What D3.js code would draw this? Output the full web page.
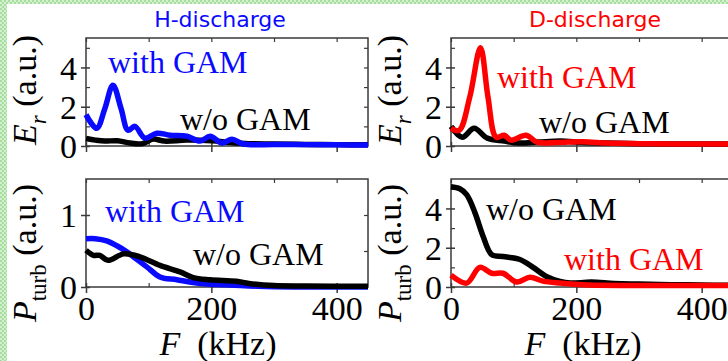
<!DOCTYPE html>
<html>
<head>
<meta charset="utf-8">
<script src="https://cdn.jsdelivr.net/npm/d3@7"></script>
<style>
    body { margin: 0; background: #fff; }
    svg { display: block; }
</style>
</head>
<body>
<svg width="728" height="361"></svg>
<script>
// Частоты (кГц) и значения
const hErGamF = [0, 17, 30, 43, 56, 67, 78, 94, 113, 134, 161, 182, 198, 217, 233, 251, 300, 350, 400, 450];
const hErGamV = [1.6, 0.9, 1.9, 3.1, 1.9, 0.8, 1.0, 0.4, 0.65, 0.55, 0.5, 0.25, 0.5, 0.15, 0.35, 0.1, 0.08, 0.07, 0.06, 0.05];
const hErNoF = [0, 15, 30, 50, 70, 90, 107, 125, 160, 200, 230, 260, 300, 350, 400, 450];
const hErNoV = [0.38, 0.3, 0.25, 0.27, 0.15, 0.12, 0.35, 0.25, 0.3, 0.27, 0.18, 0.12, 0.1, 0.08, 0.07, 0.06];

const dErGamF = [0, 13, 30, 47, 59, 72, 85, 96, 120, 137, 170, 209, 250, 300, 350, 400, 450];
const dErGamV = [0.9, 0.8, 2.5, 5.0, 2.5, 0.45, 0.55, 0.3, 0.55, 0.2, 0.18, 0.22, 0.15, 0.12, 0.1, 0.1, 0.1];
const dErNoF = [0, 18, 37, 58, 85, 108, 140, 175, 210, 250, 300, 350, 400, 450];
const dErNoV = [1.0, 0.45, 0.9, 0.4, 0.25, 0.15, 0.2, 0.25, 0.18, 0.15, 0.12, 0.1, 0.1, 0.1];

const hPGamF = [0, 15, 33, 50, 65, 80, 97, 118, 145, 182, 220, 260, 300, 350, 400, 450];
const hPGamV = [0.67, 0.67, 0.64, 0.57, 0.49, 0.39, 0.28, 0.14, 0.1, 0.05, 0.03, 0.015, 0.005, 0, 0, 0];
const hPNoF = [0, 12, 22, 35, 60, 86, 118, 150, 171, 198, 240, 260, 300, 350, 400, 450];
const hPNoV = [0.51, 0.44, 0.44, 0.37, 0.46, 0.42, 0.3, 0.21, 0.13, 0.1, 0.08, 0.05, 0.02, 0.015, 0.01, 0.01];

const dPNoF = [0, 14, 25, 38, 51, 65, 83, 110, 131, 153, 174, 190, 224, 260, 300, 350, 400, 450];
const dPNoV = [5.1, 5.0, 4.7, 3.8, 2.6, 1.65, 1.55, 1.4, 1.0, 0.52, 0.28, 0.2, 0.25, 0.18, 0.15, 0.12, 0.1, 0.08];
const dPGamF = [0, 25, 46, 65, 83, 105, 126, 147, 174, 220, 300, 400, 450];
const dPGamV = [0.6, 0.2, 1.0, 0.7, 0.7, 0.25, 0.5, 0.3, 0.2, 0.1, 0.08, 0.08, 0.08];

const xTicks = [0, 200, 400];
const xMinor = [100, 300];
const titles = ["H-discharge", "D-discharge"];

const svg = d3.select("svg");
const serif = "'Liberation Serif', 'Times New Roman', serif";

// фон слайда: зелёная клетка слева и сверху
const defs = svg.append("defs");
const pat = defs.append("pattern")
    .attr("id", "chk")
    .attr("width", 4).attr("height", 4)
    .attr("patternUnits", "userSpaceOnUse");
pat.append("rect").attr("width", 4).attr("height", 4).attr("fill", "#d4f0cf");
pat.append("rect").attr("width", 2).attr("height", 2).attr("fill", "#a6dea0");
pat.append("rect").attr("x", 2).attr("y", 2).attr("width", 2).attr("height", 2).attr("fill", "#a6dea0");
svg.append("rect").attr("width", 728).attr("height", 4).attr("fill", "url(#chk)");
svg.append("rect").attr("width", 7).attr("height", 361).attr("fill", "url(#chk)");

const colX = [{ x0: 86, x1: 368 }, { x0: 451, x1: 733 }];
const rowY = [{ y0: 38, y1: 146 }, { y0: 179, y1: 287 }];

const panels = [
    { col: 0, row: 0, dom: [0, 5.5], ticks: [0, 2, 4], minor: [1, 3, 5], label: ["E", "r"],
      series: [{ f: hErNoF, v: hErNoV, c: "#000" }, { f: hErGamF, v: hErGamV, c: "#0a0aff" }],
      notes: [{ t: "with GAM", x: 108, y: 73, c: "#0a0aff" }, { t: "w/o GAM", x: 180, y: 130, c: "#000" }] },
    { col: 1, row: 0, dom: [0, 5.5], ticks: [0, 2, 4], minor: [1, 3, 5], label: ["E", "r"],
      series: [{ f: dErNoF, v: dErNoV, c: "#000" }, { f: dErGamF, v: dErGamV, c: "#ff0000" }],
      notes: [{ t: "with GAM", x: 497, y: 88, c: "#ff0000" }, { t: "w/o GAM", x: 539, y: 133, c: "#000" }] },
    { col: 0, row: 1, dom: [0, 1.5], ticks: [0, 1], minor: [0.5], label: ["P", "turb"],
      series: [{ f: hPGamF, v: hPGamV, c: "#0a0aff" }, { f: hPNoF, v: hPNoV, c: "#000" }],
      notes: [{ t: "with GAM", x: 105, y: 222, c: "#0a0aff" }, { t: "w/o GAM", x: 193, y: 265, c: "#000" }] },
    { col: 1, row: 1, dom: [0, 5.5], ticks: [0, 2, 4], minor: [1, 3, 5], label: ["P", "turb"],
      series: [{ f: dPNoF, v: dPNoV, c: "#000" }, { f: dPGamF, v: dPGamV, c: "#ff0000" }],
      notes: [{ t: "w/o GAM", x: 486, y: 220, c: "#000" }, { t: "with GAM", x: 564, y: 270, c: "#ff0000" }] }
];

function drawPanel(p) {
    const cx = colX[p.col], ry = rowY[p.row];
    const x = d3.scaleLinear().domain([0, 450]).range([cx.x0, cx.x1]);
    const y = d3.scaleLinear().domain(p.dom).range([ry.y1, ry.y0]);
    const g = svg.append("g");
    const axisCol = "#3a3a3a";

    // рамка
    g.append("rect")
        .attr("x", cx.x0).attr("y", ry.y0)
        .attr("width", cx.x1 - cx.x0).attr("height", ry.y1 - ry.y0)
        .attr("fill", "none").attr("stroke", axisCol).attr("stroke-width", 1.5);

    // ось Y: большие деления наружу и внутрь, малые внутрь
    const yAx = g.append("g").attr("transform", `translate(${cx.x0},0)`)
        .call(d3.axisLeft(y).tickValues(p.ticks).tickSize(5).tickPadding(4).tickFormat(d3.format("d")));
    yAx.select(".domain").remove();
    yAx.selectAll("line").attr("stroke", axisCol).attr("stroke-width", 1.5).attr("x2", 4).attr("x1", -5);
    yAx.selectAll("text").attr("font-family", serif).attr("font-size", 34).attr("fill", "#000").attr("dy", "0.34em");
    const yMin = g.append("g").attr("transform", `translate(${cx.x0},0)`)
        .call(d3.axisRight(y).tickValues(p.minor).tickSize(4).tickFormat(""));
    yMin.select(".domain").remove();
    yMin.selectAll("line").attr("stroke", axisCol).attr("stroke-width", 1.2);
    const yR = g.append("g").attr("transform", `translate(${cx.x1},0)`)
        .call(d3.axisLeft(y).tickValues(p.ticks.concat(p.minor)).tickSize(4).tickFormat(""));
    yR.select(".domain").remove();
    yR.selectAll("line").attr("stroke", axisCol).attr("stroke-width", 1.2);

    // ось X
    const xAx = g.append("g").attr("transform", `translate(0,${ry.y1})`)
        .call(d3.axisBottom(x).tickValues(xTicks).tickSize(6).tickPadding(3)
            .tickFormat(p.row === 1 ? d3.format("d") : ""));
    xAx.select(".domain").remove();
    xAx.selectAll("line").attr("stroke", axisCol).attr("stroke-width", 1.5).attr("y1", -4);
    xAx.selectAll("text").attr("font-family", serif).attr("font-size", 34).attr("fill", "#000");
    const xMin = g.append("g").attr("transform", `translate(0,${ry.y1})`)
        .call(d3.axisTop(x).tickValues(xMinor).tickSize(4).tickFormat(""));
    xMin.select(".domain").remove();
    xMin.selectAll("line").attr("stroke", axisCol).attr("stroke-width", 1.2);
    const xTop = g.append("g").attr("transform", `translate(0,${ry.y0})`)
        .call(d3.axisBottom(x).tickValues(xTicks.concat(xMinor)).tickSize(4).tickFormat(""));
    xTop.select(".domain").remove();
    xTop.selectAll("line").attr("stroke", axisCol).attr("stroke-width", 1.2);

    // кривые
    const line = d3.line()
        .x(d => x(d[0]))
        .y(d => y(d[1]))
        .curve(d3.curveCatmullRom.alpha(0.5));
    p.series.forEach(s => {
        g.append("path")
            .datum(s.f.map((f, i) => [f, s.v[i]]))
            .attr("fill", "none")
            .attr("stroke", s.c)
            .attr("stroke-width", 5.5)
            .attr("stroke-linejoin", "round")
            .attr("d", line);
    });

    // подписи кривых
    p.notes.forEach(n => {
        g.append("text")
            .attr("x", n.x).attr("y", n.y)
            .attr("font-family", serif).attr("font-size", 32)
            .attr("fill", n.c)
            .text(n.t);
    });

    // подпись оси Y
    const lx = cx.x0 - 50;
    const ly = p.row === 0 ? 90 : 253;
    const yl = g.append("text")
        .attr("transform", `translate(${lx},${ly}) rotate(-90)`)
        .attr("text-anchor", "middle")
        .attr("font-family", serif).attr("font-size", 34).attr("fill", "#000");
    yl.append("tspan").attr("font-style", "italic").text(p.label[0]);
    yl.append("tspan").attr("font-style", p.label[1] === "r" ? "italic" : "normal")
        .attr("font-size", 23).attr("dy", 10).text(p.label[1]);
    yl.append("tspan").attr("dy", -10).text("\u00a0(a.u.)");

    // подпись оси X
    if (p.row === 1) {
        const xl = g.append("text")
            .attr("x", (2 * cx.x0 + 282) / 2 - 9).attr("y", 355)
            .attr("text-anchor", "middle")
            .attr("font-family", serif).attr("font-size", 34).attr("fill", "#000");
        xl.append("tspan").attr("font-style", "italic").text("F");
        xl.append("tspan").text("\u00a0\u00a0(kHz)");
    }
}

panels.forEach(drawPanel);

// заголовки столбцов
svg.selectAll(".title")
    .data(titles)
    .enter()
    .append("text")
    .attr("class", "title")
    .attr("x", (d, i) => i === 0 ? 220 : 595)
    .attr("y", 27)
    .attr("text-anchor", "middle")
    .attr("font-family", "'DejaVu Sans', Verdana, sans-serif")
    .attr("font-size", 22)
    .attr("fill", (d, i) => i === 0 ? "#0a0aff" : "#ff0000")
    .text(d => d);
</script>
</body>
</html>
